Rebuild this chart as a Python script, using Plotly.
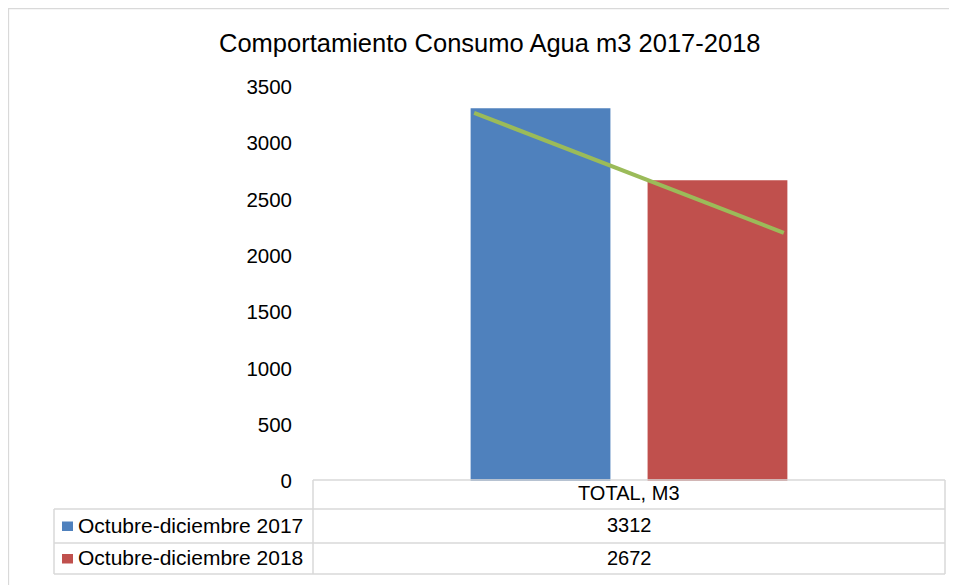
"""Water consumption comparison chart with a data table underneath."""

import plotly.graph_objects as go

CATEGORY = "TOTAL, M3"
SERIES_NAMES = ["Octubre-diciembre 2017", "Octubre-diciembre 2018"]
SERIES_VALUES = [3312, 2672]
SERIES_COLORS = ["#4F81BD", "#C0504D"]

TREND_X = [-0.245, 0.245]
TREND_Y = [3270, 2205]

Y_TICKS = [0, 500, 1000, 1500, 2000, 2500, 3000, 3500]

FONT = "Arial, Liberation Sans, sans-serif"
GRID_GREY = "#d9d9d9"

# the page body adds an 8px margin, so the figure is drawn that much smaller
PAGE_OFFSET = 8
FIG_WIDTH = 957 - PAGE_OFFSET
FIG_HEIGHT = 585 - PAGE_OFFSET

# plot area in screen pixels
PLOT_LEFT, PLOT_RIGHT = 313, 945
PLOT_TOP, PLOT_BOTTOM = 87, 481


def px_x(value):
    return (value - PLOT_LEFT) / (PLOT_RIGHT - PLOT_LEFT)


def px_y(value):
    return (PLOT_BOTTOM - value) / (PLOT_BOTTOM - PLOT_TOP)


figure = go.Figure()

for name, value, color in zip(SERIES_NAMES, SERIES_VALUES, SERIES_COLORS):
    figure.add_trace(
        go.Bar(
            x=[CATEGORY],
            y=[value],
            name=name,
            marker={"color": color, "line": {"width": 0}},
            showlegend=False,
        )
    )

figure.add_trace(
    go.Scatter(
        x=TREND_X,
        y=TREND_Y,
        mode="lines",
        line={"color": "#9BBB59", "width": 4},
        xaxis="x2",
        showlegend=False,
    )
)

shapes = []


def add_line(x0, y0, x1, y1):
    shapes.append(
        {
            "type": "line",
            "xref": "paper",
            "yref": "paper",
            "x0": px_x(x0),
            "y0": px_y(y0),
            "x1": px_x(x1),
            "y1": px_y(y1),
            "line": {"color": GRID_GREY, "width": 1.5},
        }
    )


# outer chart border (right and bottom edges fall outside the picture)
shapes.append(
    {
        "type": "rect",
        "xref": "paper",
        "yref": "paper",
        "x0": px_x(8.5),
        "y0": px_y(8.7),
        "x1": px_x(965),
        "y1": px_y(595),
        "line": {"color": GRID_GREY, "width": 1.3},
    }
)

# data table grid
HEADER_TOP, ROW1_TOP, ROW2_TOP, TABLE_BOTTOM = 480, 509, 543, 574
TABLE_LEFT, VALUE_LEFT, TABLE_RIGHT = 54, 313, 945

add_line(VALUE_LEFT, HEADER_TOP, TABLE_RIGHT, HEADER_TOP)
add_line(TABLE_LEFT, ROW1_TOP, TABLE_RIGHT, ROW1_TOP)
add_line(TABLE_LEFT, ROW2_TOP, TABLE_RIGHT, ROW2_TOP)
add_line(TABLE_LEFT, TABLE_BOTTOM, TABLE_RIGHT, TABLE_BOTTOM)
add_line(VALUE_LEFT, HEADER_TOP, VALUE_LEFT, TABLE_BOTTOM)
add_line(TABLE_RIGHT, HEADER_TOP, TABLE_RIGHT, TABLE_BOTTOM)
add_line(TABLE_LEFT, ROW1_TOP, TABLE_LEFT, TABLE_BOTTOM)


def text_note(text, x, y, size, anchor="center"):
    return {
        "text": text,
        "xref": "paper",
        "yref": "paper",
        "x": px_x(x),
        "y": px_y(y),
        "xanchor": anchor,
        "yanchor": "middle",
        "showarrow": False,
        "font": {"size": size, "color": "#000000", "family": FONT},
    }


annotations = [
    text_note("Comportamiento Consumo Agua m3 2017-2018", 490, 43, 25.5),
    text_note(CATEGORY, 629, (HEADER_TOP + ROW1_TOP) / 2 - 1, 20),
]

row_centers = [(ROW1_TOP + ROW2_TOP) / 2 - 1, (ROW2_TOP + TABLE_BOTTOM) / 2 - 1]
for row_y, name, value, color in zip(
    row_centers, SERIES_NAMES, SERIES_VALUES, SERIES_COLORS
):
    shapes.append(
        {
            "type": "rect",
            "xref": "paper",
            "yref": "paper",
            "x0": px_x(62),
            "y0": px_y(row_y - 3.5),
            "x1": px_x(73),
            "y1": px_y(row_y + 6),
            "fillcolor": color,
            "line": {"width": 0},
        }
    )
    annotations.append(text_note(name, 76, row_y, 21, anchor="left"))
    annotations.append(text_note(str(value), 629, row_y, 20))

figure.update_layout(
    width=FIG_WIDTH,
    height=FIG_HEIGHT,
    margin={
        "l": PLOT_LEFT - PAGE_OFFSET,
        "r": FIG_WIDTH - (PLOT_RIGHT - PAGE_OFFSET),
        "t": PLOT_TOP - PAGE_OFFSET,
        "b": FIG_HEIGHT - (PLOT_BOTTOM - PAGE_OFFSET),
    },
    paper_bgcolor="#ffffff",
    plot_bgcolor="#ffffff",
    barmode="group",
    bargap=0.44,
    bargroupgap=0.21,
    font={"family": FONT, "size": 20, "color": "#000000"},
    xaxis={
        "showticklabels": False,
        "showline": False,
        "showgrid": False,
        "zeroline": False,
        "fixedrange": True,
    },
    xaxis2={
        "overlaying": "x",
        "range": [-0.5, 0.5],
        "visible": False,
        "fixedrange": True,
    },
    yaxis={
        "range": [0, 3500],
        "tickvals": Y_TICKS,
        "showgrid": False,
        "showline": False,
        "zeroline": False,
        "ticks": "",
        "ticklabelstandoff": 20,
        "tickfont": {"size": 20.5, "family": FONT},
        "fixedrange": True,
    },
    shapes=shapes,
    annotations=annotations,
)

figure.write_html("out.html")
